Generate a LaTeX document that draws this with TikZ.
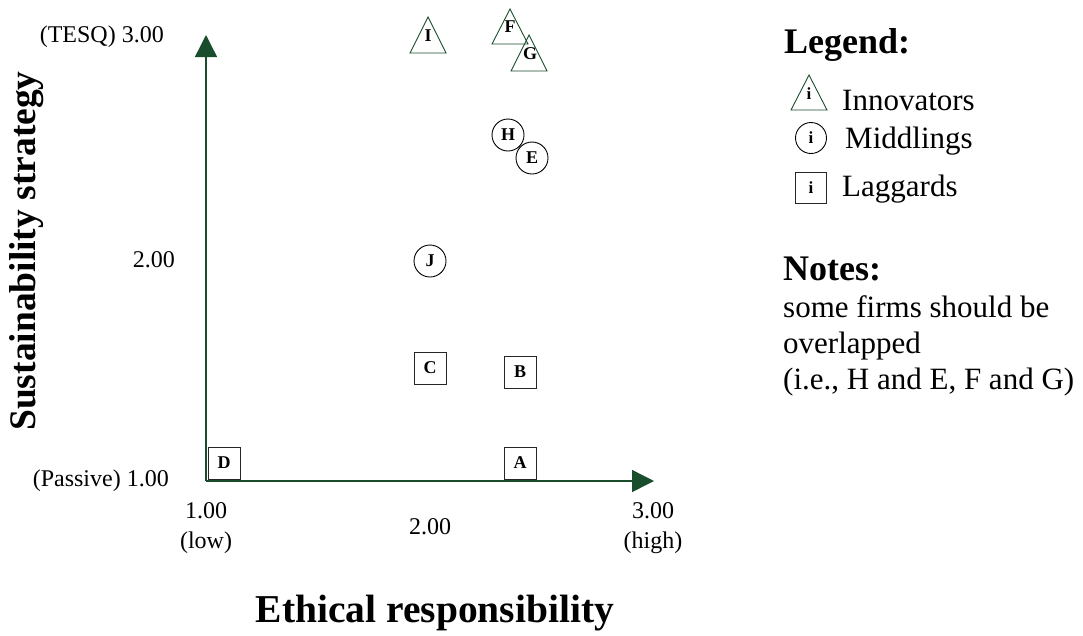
\documentclass[tikz,border=0pt]{standalone}
\usepackage{fontspec}
\setmainfont{Liberation Serif}
\usetikzlibrary{arrows.meta}
\definecolor{axisgreen}{RGB}{26,77,44}
\tikzset{
  axisline/.style={draw=axisgreen, line width=1.4pt, -{Triangle[length=22pt,width=22pt]}},
  firmlab/.style={font=\fontsize{18}{18}\selectfont\bfseries, inner sep=0pt},
  middling/.style={draw=black, line width=0.9pt, circle, minimum size=32pt, inner sep=0pt, font=\fontsize{18}{18}\selectfont\bfseries},
  laggard/.style={draw=black!85, line width=1pt, rectangle, minimum size=32pt, inner sep=0pt, font=\fontsize{18}{18}\selectfont\bfseries},
  innotri/.style={draw=axisgreen, line width=0.9pt},
  ticklab/.style={font=\fontsize{24}{24}\selectfont, inner sep=0pt},
  axistitle/.style={font=\fontsize{39.5}{39.5}\selectfont\bfseries, inner sep=0pt},
  heading/.style={font=\fontsize{36}{36}\selectfont\bfseries, inner sep=0pt, anchor=west},
  bodytext/.style={font=\fontsize{31}{36}\selectfont, inner sep=0pt, anchor=west},
  legendlab/.style={font=\fontsize{17}{17}\selectfont\bfseries, inner sep=0pt}
}
\begin{document}
\begin{tikzpicture}[x=1pt, y=-1pt]
\useasboundingbox (0,0) rectangle (1083,635);

% axes
\coordinate (O) at (206,481);
\coordinate (ytip) at (206,35);
\coordinate (xtip) at (654,481);
\draw[axisline] (O) -- (ytip);
\draw[axisline] (O) -- (xtip);

% y tick labels
\node[ticklab, anchor=east] (y3) at (164,37) {(TESQ) 3.00};
\node[ticklab, anchor=east] (y2) at (175,260) {2.00};
\node[ticklab, anchor=east] (y1) at (169,481) {(Passive) 1.00};

% x tick labels
\node[ticklab, align=center] (x1) at (206,528) {1.00\\[6pt](low)};
\node[ticklab] (x2) at (430,527) {2.00};
\node[ticklab, align=center] (x3) at (653,528) {3.00\\[6pt](high)};

% axis titles
\node[axistitle, rotate=90, font=\fontsize{37.5}{37.5}\selectfont\bfseries] (ytitle) at (27,251) {Sustainability strategy};
\node[axistitle] (xtitle) at (435,613) {Ethical responsibility};

% innovators
\draw[innotri] (428,17) -- ++(18,36) -- ++(-36,0) -- cycle;
\node[firmlab] (fI) at (428,36) {I};
\draw[innotri] (510,9) -- ++(18,35) -- ++(-36,0) -- cycle;
\node[firmlab] (fF) at (510,27) {F};
\draw[innotri] (529,35) -- ++(18,36) -- ++(-36,0) -- cycle;
\node[firmlab] (fG) at (530,54) {G};

% middlings
\node[middling] (fH) at (508,135) {H};
\node[middling] (fE) at (532,158) {E};
\node[middling] (fJ) at (430,261) {J};

% laggards
\node[laggard] (fC) at (430,368) {C};
\node[laggard] (fB) at (520,372) {B};
\node[laggard] (fD) at (224,463) {D};
\node[laggard] (fA) at (520,463) {A};

% legend
\node[heading] (legend) at (784,45) {Legend:};
\draw[innotri] (809,75) -- ++(18,35) -- ++(-36,0) -- cycle;
\node[legendlab] (li) at (809,94) {i};
\node[bodytext] (linno) at (842,100) {Innovators};
\node[middling, minimum size=31pt, font=\fontsize{17}{17}\selectfont\bfseries] (lm) at (811,138) {i};
\node[bodytext] (lmid) at (845,141) {Middlings};
\node[laggard, minimum size=31pt, font=\fontsize{17}{17}\selectfont\bfseries] (ll) at (811,188) {i};
\node[bodytext] (llag) at (842,189) {Laggards};

% notes
\node[heading] (notes) at (783,269) {Notes:};
\node[bodytext, anchor=north west, align=left] (notetext) at (783,295)
  {some firms should be\\overlapped\\(i.e., H and E, F and G)};
\end{tikzpicture}
\end{document}
